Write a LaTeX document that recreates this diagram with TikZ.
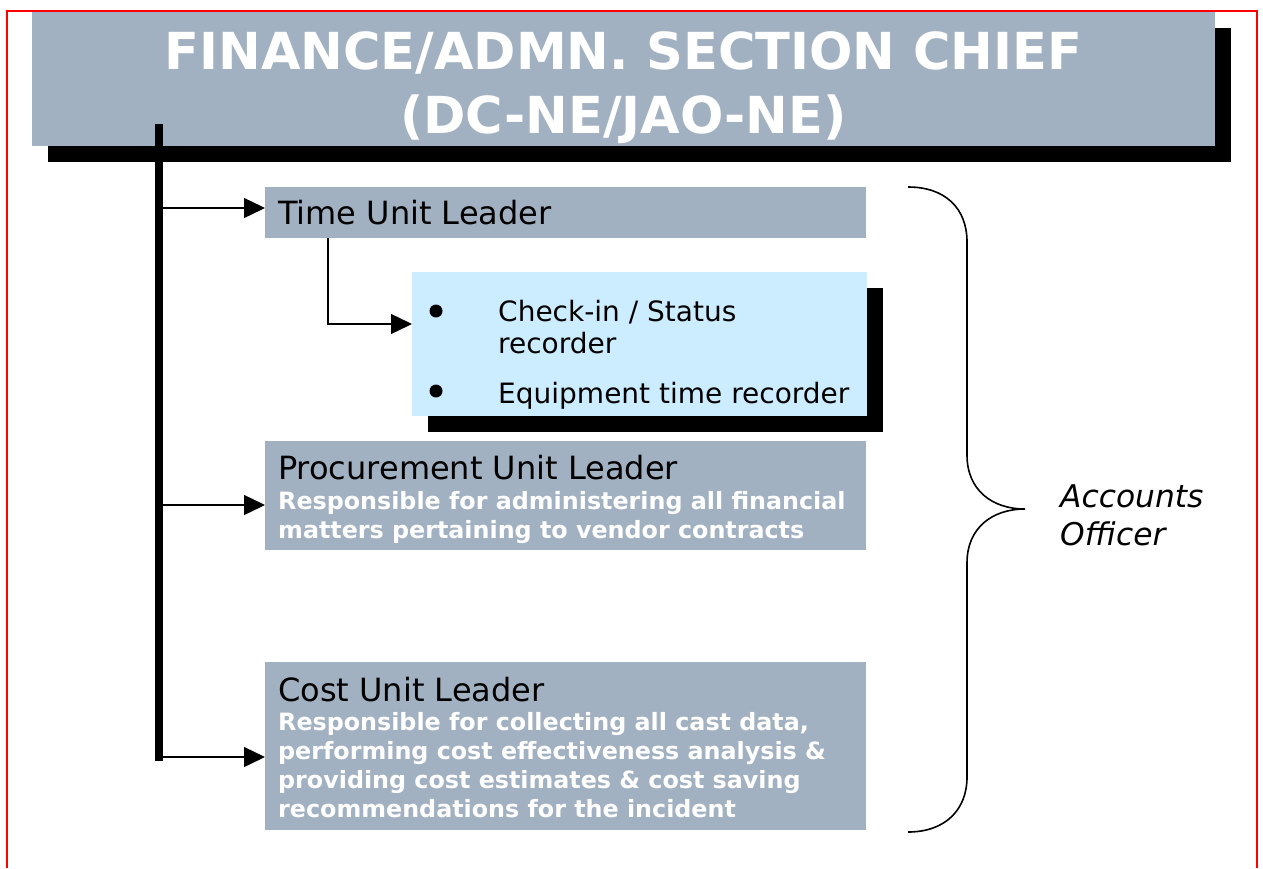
\documentclass[tikz,border=0pt]{standalone}
\usepackage{fontspec}
\setmainfont{DejaVu Sans}
\usetikzlibrary{arrows.meta}
\definecolor{boxgray}{HTML}{A2B1C1}
\definecolor{lightblue}{HTML}{CCECFF}
\begin{document}
\begin{tikzpicture}[x=1pt,y=-1pt,
  graybox/.style={fill=boxgray, draw=none, inner sep=0pt, anchor=north west},
  bluebox/.style={fill=lightblue, draw=none, inner sep=0pt, anchor=north west},
  shadowbox/.style={fill=black, draw=none, inner sep=0pt, anchor=north west},
  conn/.style={line width=1.4pt, -{Triangle[length=21pt,width=20pt]}},
  titletext/.style={anchor=base, inner sep=0pt, text=white, font=\bfseries\fontsize{51}{60}\selectfont},
  lbl/.style={anchor=base west, inner sep=0pt, font=\fontsize{32}{38}\selectfont},
  desc/.style={anchor=base west, inner sep=0pt, text=white, font=\bfseries\fontsize{23.8}{29}\selectfont},
  bultext/.style={anchor=base west, inner sep=0pt, font=\fontsize{28}{33}\selectfont},
  bullet/.style={circle, fill=black, inner sep=0pt, minimum size=13pt},
  side/.style={anchor=base west, inner sep=0pt, font=\itshape\fontsize{31.3}{37}\selectfont},
]
\useasboundingbox (0,0) rectangle (1263,868);
\draw[red, line width=2pt] (7,868) -- (7,11) -- (1257,11) -- (1257,868);

% title
\node[shadowbox, minimum width=1183pt, minimum height=134pt] (titleshadow) at (48,28) {};
\node[graybox, minimum width=1183pt, minimum height=134pt] (title) at (32,12) {};
\node[titletext] (title1) at (623.5,69) {FINANCE/ADMN. SECTION CHIEF};
\node[titletext] (title2) at (623.5,133) {(DC-NE/JAO-NE)};

% trunk
\coordinate (trunktop) at (159,124);
\coordinate (trunkbot) at (159,761);
\draw[line width=8pt] (trunktop) -- (trunkbot);

% time unit
\node[graybox, minimum width=601pt, minimum height=51pt] (time) at (265,187) {};
\node[lbl] (timet) at (278,224) {Time Unit Leader};

% light blue box
\node[shadowbox, minimum width=455pt, minimum height=144pt] (blueshadow) at (428,288) {};
\node[bluebox, minimum width=455pt, minimum height=144pt] (blue) at (412,272) {};
\node[bullet] (b1) at (436,311) {};
\node[bullet] (b2) at (436,391) {};
\node[bultext] (bt1) at (498,321) {Check-in / Status};
\node[bultext] (bt2) at (498,353) {recorder};
\node[bultext] (bt3) at (498,403) {Equipment time recorder};

% procurement
\node[graybox, minimum width=601pt, minimum height=109pt] (proc) at (265,441) {};
\node[lbl] (proct) at (278,479) {Procurement Unit Leader};
\node[desc] (procd1) at (278,509) {Responsible for administering all financial};
\node[desc] (procd2) at (278,538) {matters pertaining to vendor contracts};

% cost
\node[graybox, minimum width=601pt, minimum height=168pt] (cost) at (265,662) {};
\node[lbl] (costt) at (278,701) {Cost Unit Leader};
\node[desc] (costd1) at (278,730) {Responsible for collecting all cast data,};
\node[desc] (costd2) at (278,759) {performing cost effectiveness analysis \&};
\node[desc] (costd3) at (278,788) {providing cost estimates \& cost saving};
\node[desc] (costd4) at (278,817) {recommendations for the incident};

% connectors
\coordinate (c1) at (163,208);
\coordinate (c2) at (163,505);
\coordinate (c3) at (163,757);
\draw[conn] (c1) -- (time.west |- c1);
\draw[conn] (c2) -- (proc.west |- c2);
\draw[conn] (c3) -- (cost.west |- c3);
\coordinate (e2) at (328,324);
\draw[conn] (time.south -| e2) -- (e2) -- (blue.west |- e2);

% brace
\coordinate (brtop) at (908,187);
\coordinate (brtip) at (1025,509);
\coordinate (brbot) at (908,832);
\draw[line width=1.6pt] (brtop) .. controls (945,187) and (967,208) .. (967,242)
  -- (967,455) .. controls (967,490) and (992,509) .. (brtip)
  .. controls (992,509) and (967,528) .. (967,563)
  -- (967,777) .. controls (967,810) and (945,832) .. (brbot);
\node[side] (acc1) at (1060,507) {Accounts};
\node[side] (acc2) at (1060,545) {Officer};
\end{tikzpicture}
\end{document}
